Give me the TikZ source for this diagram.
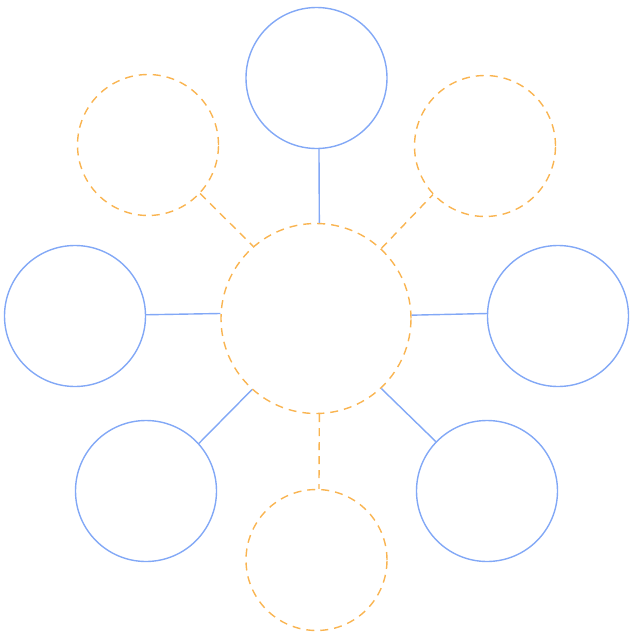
\documentclass[tikz,border=0pt]{standalone}
\definecolor{cblue}{HTML}{82A8F6}
\definecolor{corange}{HTML}{F9B451}
\tikzset{
  solidc/.style={circle,draw=cblue,line width=1.4pt,minimum size=141pt,inner sep=0pt},
  dashc/.style={circle,draw=corange,line width=1.4pt,dash pattern=on 8pt off 6pt,minimum size=141pt,inner sep=0pt},
  hubc/.style={circle,draw=corange,line width=1.4pt,dash pattern=on 8pt off 6pt,minimum size=190pt,inner sep=0pt},
  solidl/.style={draw=cblue,line width=1.4pt},
  dashl/.style={draw=corange,line width=1.4pt,dash pattern=on 8pt off 6pt},
}
\begin{document}
\begin{tikzpicture}[x=1pt,y=-1pt]
\useasboundingbox (0,0) rectangle (635,635);
\node[hubc] (hub) at (316,318.5) {};
\node[solidc] (top) at (316.5,78) {};
\node[dashc] (tl) at (148,145) {};
\node[dashc] (tr) at (485,146) {};
\node[solidc] (left) at (75,316) {};
\node[solidc] (right) at (558,316) {};
\node[solidc] (bl) at (146,491) {};
\node[solidc] (br) at (487,491) {};
\node[dashc] (bot) at (316.5,560) {};
\draw[solidl] (top.-88) -- (hub.88.2);
\draw[solidl] (left.1.6) -- (hub.177.3);
\draw[solidl] (hub.2.7) -- (right.178.4);
\draw[solidl] (bl.42.7) -- (hub.228);
\draw[solidl] (hub.-47.5) -- (br.136.7);
\draw[dashl] (hub.-88.2) -- (bot.88);
\draw[dashl] (tl.-43.3) -- (hub.131.6);
\draw[dashl] (hub.47.1) -- (tr.223.9);
\end{tikzpicture}
\end{document}
